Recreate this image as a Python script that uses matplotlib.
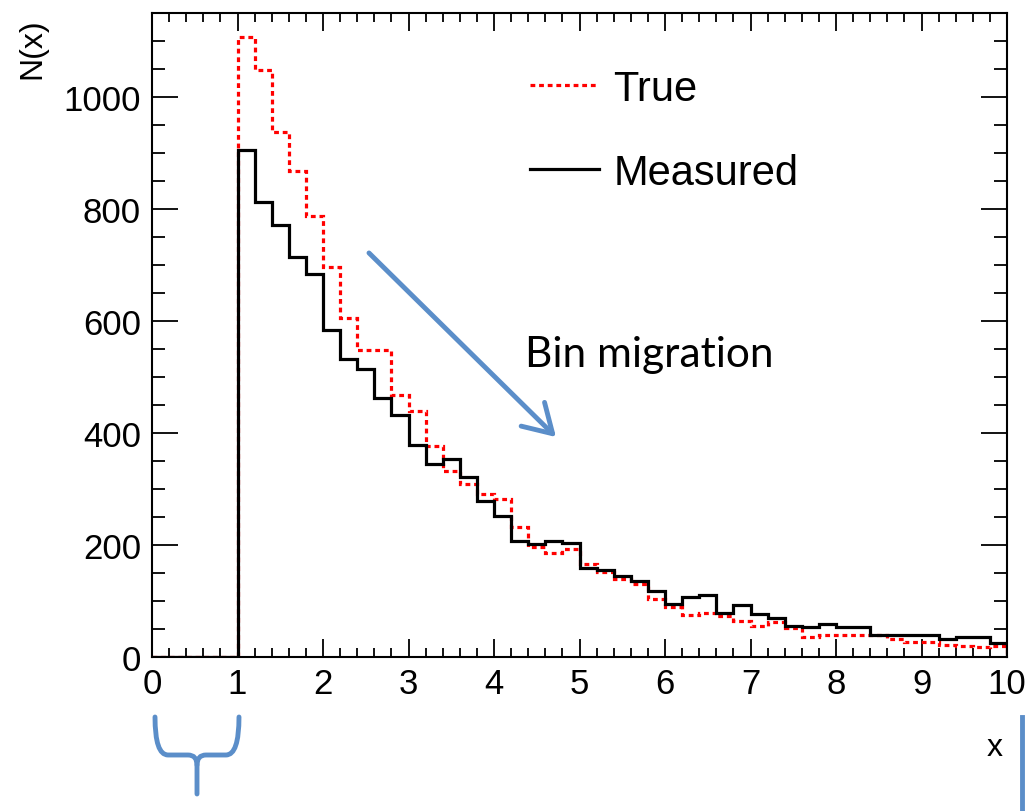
import numpy as np
import matplotlib.pyplot as plt
from matplotlib.path import Path
from matplotlib.patches import PathPatch
from matplotlib.ticker import MultipleLocator

# Гистограмма: 50 бинов от 0 до 10
x_min, x_max, n_bins = 0, 10, 50

# Истинное распределение (True)
true_counts = [0, 0, 0, 0, 0,
               1107, 1048, 937, 867, 788, 696, 605, 549, 549, 467,
               440, 377, 332, 309, 291, 283, 233, 196, 185, 193,
               166, 152, 139, 130, 104, 90, 75, 78, 73, 65,
               55, 63, 51, 36, 39, 39, 39, 39, 32, 26,
               26, 22, 20, 17, 20]

# Измеренное распределение (Measured)
meas_counts = [0, 0, 0, 0, 0,
               905, 812, 771, 714, 684, 584, 532, 515, 462, 432,
               379, 345, 354, 322, 279, 251, 208, 202, 208, 204,
               159, 156, 144, 135, 117, 95, 108, 111, 78, 92,
               76, 69, 56, 53, 59, 53, 53, 40, 40, 40,
               40, 33, 36, 36, 25]

edges = np.linspace(x_min, x_max, n_bins + 1)

plt.rcParams['font.family'] = ['Liberation Sans', 'DejaVu Sans']

W, H = 1025, 812
fig = plt.figure(figsize=(W / 100, H / 100), dpi=100)

ax = fig.add_axes([152 / W, 1 - 658 / H, (1007 - 152) / W, (658 - 14) / H])

ax.stairs(true_counts, edges, color='red', linewidth=2.3,
          linestyle=(0, (1.5, 1.2)), label='True', zorder=2)
ax.stairs(meas_counts, edges, color='black', linewidth=2.3,
          label='Measured', zorder=3)

ax.set_xlim(0, 10)
ax.set_ylim(0, 1150)
ax.xaxis.set_major_locator(MultipleLocator(1))
ax.xaxis.set_minor_locator(MultipleLocator(0.2))
ax.yaxis.set_major_locator(MultipleLocator(200))
ax.yaxis.set_minor_locator(MultipleLocator(50))

for s in ax.spines.values():
    s.set_linewidth(1.5)

ax.tick_params(axis='both', which='both', direction='in', top=True, right=True,
               width=1.3, labelsize=25)
ax.tick_params(axis='x', which='major', length=13, pad=7)
ax.tick_params(axis='x', which='minor', length=6.5)
ax.tick_params(axis='y', which='major', length=19, pad=8)
ax.tick_params(axis='y', which='minor', length=9.5)

leg = ax.legend(loc='upper left', bbox_to_anchor=((530 - 152) / 855, 1 - (70 - 14) / 644),
                frameon=False, prop={'family': ['Liberation Sans'], 'size': 30},
                handlelength=1.65, handletextpad=0.35,
                labelspacing=1.05, borderaxespad=0, borderpad=0)

fig.text(32 / W, 1 - 18 / H, 'N(x)', rotation=90, ha='center', va='top', fontsize=23)
fig.text(995 / W, 1 - 748 / H, 'x', ha='center', va='center', fontsize=23)

blue = '#5b8ec9'

# Стрелка "Bin migration"
ax.annotate('', xy=(558, H - 440), xytext=(367, H - 252),
            xycoords='figure pixels', textcoords='figure pixels',
            arrowprops=dict(arrowstyle='->,head_length=1.0,head_width=0.6',
                            color=blue, lw=3.5, mutation_scale=20))
fig.text(525 / W, 1 - 367 / H, 'Bin migration', family=['Lato', 'DejaVu Sans'],
         fontsize=30.5, ha='left', va='baseline')

# Фигурная скобка под [0, 1]
def fp(x, y):
    return (x / W, 1 - y / H)

verts = [fp(155, 718), fp(155, 756), fp(168, 756),
         fp(188, 756),
         fp(197, 756), fp(197, 766), fp(197, 795)]
codes = [Path.MOVETO, Path.CURVE3, Path.CURVE3,
         Path.LINETO,
         Path.CURVE3, Path.CURVE3, Path.LINETO]
verts2 = [fp(239, 718), fp(239, 756), fp(226, 756),
          fp(206, 756),
          fp(197, 756), fp(197, 766)]
codes2 = [Path.MOVETO, Path.CURVE3, Path.CURVE3,
          Path.LINETO,
          Path.CURVE3, Path.CURVE3]
for v, c in [(verts, codes), (verts2, codes2)]:
    fig.patches.append(PathPatch(Path(v, c), transform=fig.transFigure,
                                 fill=False, edgecolor=blue, lw=3.5,
                                 capstyle='round', joinstyle='round'))

fig.add_artist(plt.Line2D([1022 / W, 1022 / W], [1 - 718 / H, 0],
                          transform=fig.transFigure, color=blue, lw=3.5))

plt.savefig('out.png', dpi=100)
